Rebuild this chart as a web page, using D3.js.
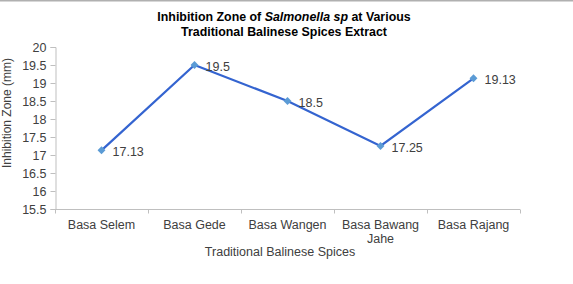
<!DOCTYPE html>
<html>
<head>
<meta charset="utf-8">
<script src="https://cdn.jsdelivr.net/npm/d3@7"></script>
<style>
  body { margin: 0; background: #fff; }
  svg { display: block; font-family: "Liberation Sans", Arial, sans-serif; }
</style>
</head>
<body>
<svg width="573" height="284"></svg>
<script>
const categories = ["Basa Selem", "Basa Gede", "Basa Wangen", "Basa Bawang Jahe", "Basa Rajang"];
const zoneValues = [17.13, 19.5, 18.5, 17.25, 19.13];
const valueLabels = ["17.13", "19.5", "18.5", "17.25", "19.13"];
const yTicks = [15.5, 16, 16.5, 17, 17.5, 18, 18.5, 19, 19.5, 20];

const svg = d3.select("svg"),
  width = +svg.attr("width"),
  height = +svg.attr("height");

const fs = "12.5px";
const data = categories.map((c, i) => ({ cat: c, y: zoneValues[i], label: valueLabels[i] }));

// top border
svg.append("line")
  .attr("x1", 0).attr("x2", width)
  .attr("y1", 0.5).attr("y2", 0.5)
  .attr("stroke", "#b0b0b0").attr("stroke-width", 2);

const xScale = d3.scaleBand()
  .domain(categories)
  .range([55, 520]);

const yScale = d3.scaleLinear()
  .domain([15.5, 20])
  .range([209, 47]);

// y axis
const yAxis = svg.append("g")
  .attr("transform", "translate(55.5,0)")
  .call(d3.axisLeft(yScale).tickValues(yTicks).tickSize(5).tickPadding(4).tickFormat(d => d));
yAxis.selectAll("line, path").attr("stroke", "#bfbfbf");
yAxis.selectAll("text").attr("fill", "#404040").style("font-size", fs)
  .style("font-family", "Liberation Sans, Arial, sans-serif");

// x axis, ticks at category boundaries
const xAxis = svg.append("g")
  .attr("transform", "translate(0,209.5)");
xAxis.append("line")
  .attr("x1", 55).attr("x2", 520)
  .attr("stroke", "#bfbfbf");
const bounds = categories.map(c => xScale(c)).concat([xScale.range()[1]]);
xAxis.selectAll(".tk")
  .data(bounds)
  .join("line")
  .attr("x1", d => Math.round(d) + 0.5).attr("x2", d => Math.round(d) + 0.5)
  .attr("y1", 0).attr("y2", 4)
  .attr("stroke", "#bfbfbf");

// category labels (wrap long one)
xAxis.selectAll(".cat")
  .data(categories)
  .join("text")
  .attr("text-anchor", "middle")
  .attr("fill", "#404040")
  .style("font-size", fs)
  .attr("transform", d => `translate(${xScale(d) + xScale.bandwidth() / 2},0)`)
  .each(function (d) {
    const t = d3.select(this);
    const lines = d === "Basa Bawang Jahe" ? ["Basa Bawang", "Jahe"] : [d];
    lines.forEach((l, i) => {
      t.append("tspan").attr("x", 0).attr("y", 19 + i * 14).text(l);
    });
  });

// line
const line = d3.line()
  .x(d => xScale(d.cat) + xScale.bandwidth() / 2)
  .y(d => yScale(d.y));

svg.append("path")
  .datum(data)
  .attr("d", line)
  .attr("fill", "none")
  .attr("stroke", "#3464d0")
  .attr("stroke-width", 2.2);

// diamond markers
svg.selectAll(".pt")
  .data(data)
  .join("path")
  .attr("d", d3.symbol().type(d3.symbolDiamond2).size(40))
  .attr("transform", d => `translate(${xScale(d.cat) + xScale.bandwidth() / 2},${yScale(d.y)})`)
  .attr("fill", "#5b9bd5");

// value labels
svg.selectAll(".lbl")
  .data(data)
  .join("text")
  .attr("x", d => xScale(d.cat) + xScale.bandwidth() / 2 + 11)
  .attr("y", d => yScale(d.y) + 6)
  .attr("fill", "#404040")
  .style("font-size", fs)
  .text(d => d.label);

// title
const title = svg.append("text")
  .attr("text-anchor", "middle")
  .attr("font-weight", "bold")
  .style("font-size", "12.4px")
  .attr("fill", "#000");
const t1 = title.append("tspan").attr("x", 284).attr("y", 21);
t1.append("tspan").text("Inhibition Zone of ");
t1.append("tspan").attr("font-style", "italic").text("Salmonella sp");
t1.append("tspan").text(" at Various");
title.append("tspan").attr("x", 284).attr("y", 36).text("Traditional Balinese Spices Extract");

// axis titles
svg.append("text")
  .attr("x", 280)
  .attr("y", 256)
  .attr("text-anchor", "middle")
  .attr("fill", "#404040")
  .style("font-size", fs)
  .text("Traditional Balinese Spices");

svg.append("text")
  .attr("transform", "rotate(-90)")
  .attr("x", -113)
  .attr("y", 11)
  .attr("text-anchor", "middle")
  .attr("fill", "#404040")
  .style("font-size", "12px")
  .text("Inhibition Zone (mm)");
</script>
</body>
</html>
